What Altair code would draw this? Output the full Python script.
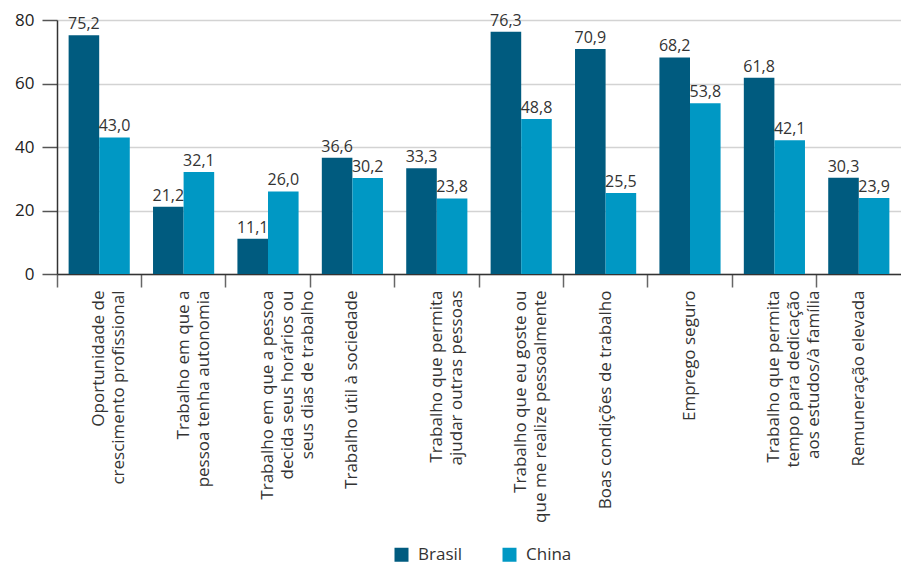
import altair as alt
import pandas as pd

categories = [
    "Oportunidade de|crescimento profissional",
    "Trabalho em que a|pessoa tenha autonomia",
    "Trabalho em que a pessoa|decida seus horários ou|seus dias de trabalho",
    "Trabalho útil à sociedade",
    "Trabalho que permita|ajudar outras pessoas",
    "Trabalho que eu goste ou|que me realize pessoalmente",
    "Boas condições de trabalho",
    "Emprego seguro",
    "Trabalho que permita|tempo para dedicação|aos estudos/à família",
    "Remuneração elevada",
]
brasil = [75.2, 21.2, 11.1, 36.6, 33.3, 76.3, 70.9, 68.2, 61.8, 30.3]
china = [43.0, 32.1, 26.0, 30.2, 23.8, 48.8, 25.5, 53.8, 42.1, 23.9]
series = ["Brasil", "China"]
colors = ["#005B7F", "#0098C4"]
y_ticks = [0, 20, 40, 60, 80]

rows = []
for c, b, ch in zip(categories, brasil, china):
    for s, v in zip(series, [b, ch]):
        rows.append({"cat": c, "serie": s, "value": v,
                     "label": f"{v:.1f}".replace(".", ",")})
df = pd.DataFrame(rows)

FONT = "Open Sans"

x_enc = alt.X(
    "cat:N", sort=categories,
    scale=alt.Scale(paddingInner=0, paddingOuter=0),
    axis=alt.Axis(
        title=None, labelAngle=270, labelAlign="right", labelBaseline="middle",
        labelExpr="split(datum.label, '|')", bandPosition=0, tickSize=13,
        labelPadding=3, labelFontSize=17, labelLineHeight=20, labelColor="#333",
        domainColor="#333", domainWidth=1.5, tickColor="#666", tickWidth=1.5,
        grid=False, labelLimit=0,
    ),
)
xoff_enc = alt.XOffset("serie:N", sort=series,
                       scale=alt.Scale(paddingOuter=0.38, paddingInner=0))
y_enc = alt.Y(
    "value:Q", scale=alt.Scale(domain=[0, 80]),
    axis=alt.Axis(
        values=y_ticks, title=None, tickSize=15, labelPadding=8, labelFontSize=17,
        gridColor="#d3d3d3", gridWidth=1.5, domainColor="#333", domainWidth=1.5,
        tickColor="#555", tickWidth=1.5, labelColor="#222",
    ),
)

base = alt.Chart(df).encode(x=x_enc, xOffset=xoff_enc, y=y_enc)

bars = base.mark_bar().encode(
    color=alt.Color(
        "serie:N", sort=series,
        scale=alt.Scale(domain=series, range=colors),
        legend=alt.Legend(
            title=None, orient="none", legendX=336, legendY=526,
            direction="horizontal", symbolType="square", symbolSize=196,
            symbolStrokeWidth=0, labelFontSize=17, labelColor="#333",
            columnPadding=38, labelOffset=8,
        ),
    )
)

texts = base.mark_text(baseline="bottom", dy=-3, fontSize=16, color="#333").encode(
    text="label:N"
)

chart = (
    alt.layer(bars, texts)
    .properties(
        width=844, height=254,
        padding={"left": 49, "top": 12, "right": 0, "bottom": 293},
        autosize="none",
    )
    .configure_view(stroke=None)
    .configure(font=FONT)
)

chart.save("out.html", embed_options={"renderer": "svg", "actions": False})
